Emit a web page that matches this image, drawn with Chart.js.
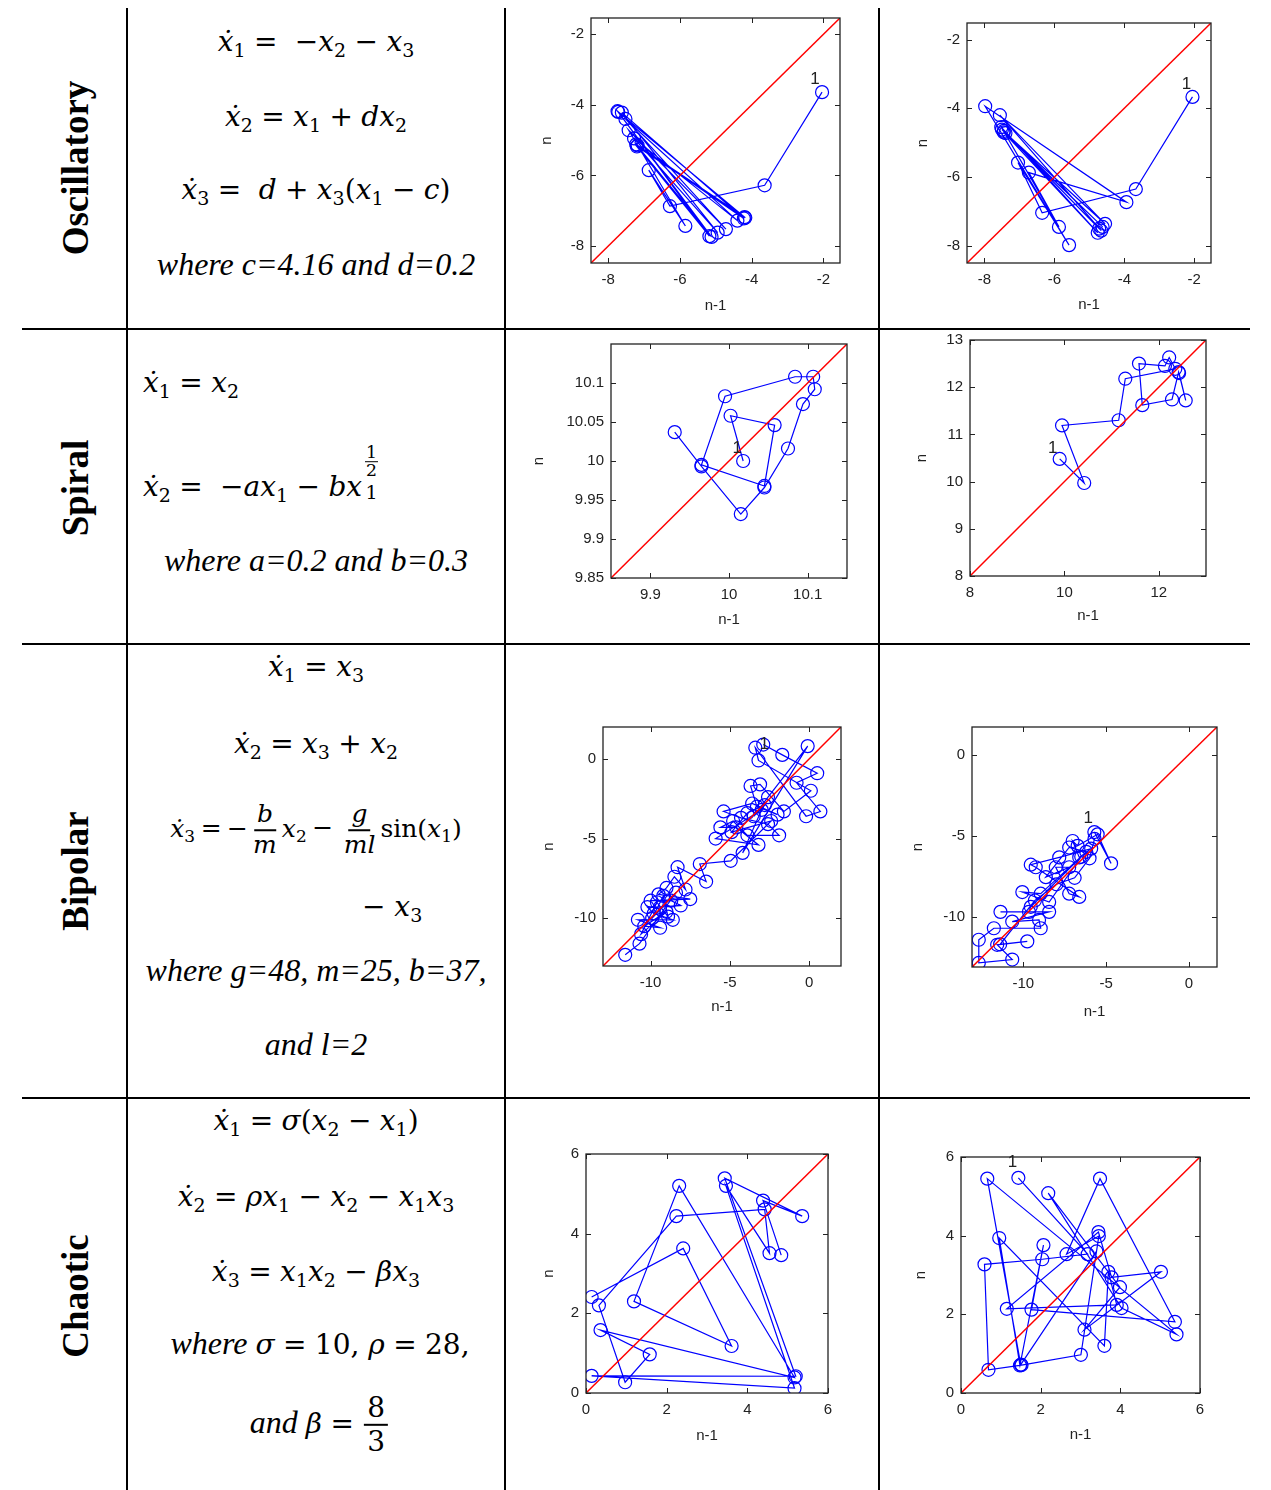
<!DOCTYPE html>
<html>
<head>
<meta charset="utf-8">
<script src="https://cdn.jsdelivr.net/npm/chart.js@4.4.1/dist/chart.umd.min.js"></script>
<style>
body { margin: 0; background: #fff; width: 1271px; height: 1490px; position: relative; overflow: hidden; }
.hl { position: absolute; left: 22px; width: 1228px; height: 2px; background: #000; }
.vl { position: absolute; top: 8px; width: 2px; height: 1482px; background: #000; }
.rowlab { position: absolute; left: 75px; font: bold 37px 'Liberation Serif', serif; transform: translate(-50%, -50%) rotate(-90deg); white-space: nowrap; }
.eq { position: absolute; white-space: nowrap; font-family: 'DejaVu Serif', serif; font-size: 28px; font-style: italic; line-height: 1.2; }
.c { left: 316px; transform: translate(-50%, -50%); }
.l { transform: translate(0, -50%); }
.eq sub { font-size: 0.68em; font-style: normal; vertical-align: -0.3em; line-height: 0; }
.up { font-style: normal; }
.op { font-style: normal; margin: 0 0.3em; }
.tight .op { margin: 0 0.22em; }
.tn { font-family: 'Liberation Serif', serif; font-size: 32px; font-style: italic; }
.fr { display: inline-flex; flex-direction: column; align-items: center; vertical-align: middle; line-height: 1.15; margin: 0 2px; }
.fr > span { padding: 0 3px; }
.fr > span:first-child { border-bottom: 2px solid #000; }
.ex { display: inline-flex; flex-direction: column; align-items: center; vertical-align: 38px; font-style: normal; line-height: 1; margin-left: 3px; }
.ex .fr { font-size: 0.62em; margin: 0; line-height: 1; vertical-align: baseline; }
.ex .fr > span { padding: 0 1px; }
.ex .fr > span:first-child { border-bottom-width: 1px; }
.ex .sb { font-size: 0.68em; margin-top: 3px; }
canvas { position: absolute; }
</style>
</head>
<body>
<div class="vl" style="left:126px"></div>
<div class="vl" style="left:504px"></div>
<div class="vl" style="left:878px"></div>
<div class="hl" style="top:328px"></div>
<div class="hl" style="top:643px"></div>
<div class="hl" style="top:1097px"></div>

<div class="rowlab" style="top:168px">Oscillatory</div>
<div class="rowlab" style="top:488px">Spiral</div>
<div class="rowlab" style="top:871px">Bipolar</div>
<div class="rowlab" style="top:1296px">Chaotic</div>

<!-- oscillatory -->
<div class="eq c" style="top:42px">&#x1E8B;<sub>1</sub><span class="op">=</span> <span class="up">&minus;</span>x<sub>2</sub><span class="op">&minus;</span>x<sub>3</sub></div>
<div class="eq c" style="top:117px">&#x1E8B;<sub>2</sub><span class="op">=</span>x<sub>1</sub><span class="op">+</span>dx<sub>2</sub></div>
<div class="eq c" style="top:190px">&#x1E8B;<sub>3</sub><span class="op">=</span>&nbsp;d<span class="op">+</span>x<sub>3</sub><span class="up">(</span>x<sub>1</sub><span class="op">&minus;</span>c<span class="up">)</span></div>
<div class="eq c tn" style="top:264px">where c=4.16 and d=0.2</div>

<!-- spiral -->
<div class="eq l" style="left:143px;top:383px">&#x1E8B;<sub>1</sub><span class="op">=</span>x<sub>2</sub></div>
<div class="eq l" style="left:143px;top:474px">&#x1E8B;<sub>2</sub><span class="op">=</span>&nbsp;<span class="up">&minus;</span>ax<sub>1</sub><span class="op">&minus;</span>bx<span class="ex"><span class="fr"><span>1</span><span>2</span></span><span class="sb">1</span></span></div>
<div class="eq c tn" style="top:560px">where a=0.2 and b=0.3</div>

<!-- bipolar -->
<div class="eq c" style="top:667px">&#x1E8B;<sub>1</sub><span class="op">=</span>x<sub>3</sub></div>
<div class="eq c" style="top:744px">&#x1E8B;<sub>2</sub><span class="op">=</span>x<sub>3</sub><span class="op">+</span>x<sub>2</sub></div>
<div class="eq c tight" style="top:830px;font-size:25px">&#x1E8B;<sub>3</sub><span class="op">=</span><span class="up">&minus;</span><span class="fr"><span>b</span><span>m</span></span>x<sub>2</sub><span class="op">&minus;</span><span class="fr"><span>g</span><span>ml</span></span><span class="up">sin(</span>x<sub>1</sub><span class="up">)</span></div>
<div class="eq l" style="left:362px;top:907px"><span class="up">&minus;</span> x<sub>3</sub></div>
<div class="eq c tn" style="top:970px">where g=48, m=25, b=37,</div>
<div class="eq c tn" style="top:1044px">and l=2</div>

<!-- chaotic -->
<div class="eq c" style="top:1121px">&#x1E8B;<sub>1</sub><span class="op">=</span>&sigma;<span class="up">(</span>x<sub>2</sub><span class="op">&minus;</span>x<sub>1</sub><span class="up">)</span></div>
<div class="eq c" style="top:1197px">&#x1E8B;<sub>2</sub><span class="op">=</span>&rho;x<sub>1</sub><span class="op">&minus;</span>x<sub>2</sub><span class="op">&minus;</span>x<sub>1</sub>x<sub>3</sub></div>
<div class="eq c" style="top:1272px">&#x1E8B;<sub>3</sub><span class="op">=</span>x<sub>1</sub>x<sub>2</sub><span class="op">&minus;</span>&beta;x<sub>3</sub></div>
<div class="eq c" style="top:1343px;left:320px"><span class="tn">where </span>&sigma;<span class="op">=</span><span class="up">10,</span> &rho;<span class="op">=</span><span class="up">28,</span></div>
<div class="eq c" style="top:1425px;left:320px"><span class="tn">and </span>&beta;<span class="op">=</span><span class="fr up"><span>8</span><span>3</span></span></div>

<script>
// return maps: x = value at n-1, y = value at n
const oscAx = [-2.04, -3.64, -6.28, -6.87, -5.85, -7.43, -4.72, -7.52, -4.40, -7.28, -4.95, -7.62, -4.22, -7.22, -5.12, -7.74, -4.18, -7.20, -5.18, -7.72, -4.20, -7.18];
const oscAy = [-3.64, -6.28, -6.87, -5.85, -7.43, -4.72, -7.52, -4.40, -7.28, -4.95, -7.62, -4.22, -7.22, -5.12, -7.74, -4.18, -7.20, -5.18, -7.72, -4.20, -7.18, -5.15];
const oscBx = [-2.05, -3.67, -6.35, -7.04, -5.58, -7.98, -3.94, -6.73, -5.87, -7.45, -4.66, -7.56, -4.55, -7.40, -4.72, -7.50, -4.62, -7.45, -4.76, -7.52];
const oscBy = [-3.67, -6.35, -7.04, -5.58, -7.98, -3.94, -6.73, -5.87, -7.45, -4.66, -7.56, -4.20, -7.36, -4.72, -7.50, -4.62, -7.45, -4.70, -7.62, -4.55];

const spiAx = [10.018, 10.002, 10.058, 10.045, 9.965, 9.995, 10.084, 10.107, 10.109, 10.094, 10.075, 10.045, 10.015, 9.965, 9.931];
const spiAy = [10.000, 10.058, 10.046, 9.968, 9.995, 10.083, 10.108, 10.108, 10.092, 10.073, 10.016, 9.966, 9.932, 9.993, 10.037];
const spiBx = [9.90, 10.42, 9.95, 11.15, 11.29, 12.35, 12.22, 12.13, 11.58, 11.65, 12.28, 12.42, 12.57, 12.43];
const spiBy = [10.48, 9.97, 11.19, 11.30, 12.18, 12.39, 12.63, 12.45, 12.50, 11.62, 11.74, 12.32, 11.72, 12.30];

const bipAx = [-2.9, -1.7, 0.5, -0.8, 0.7, -0.2, -3.4, -3.2, 0.1, -1.6, -3.1, -3.7, -3.3, -2.0, -3.6, -5.4, -4.3, -2.6, -1.9, -3.9,
  -4.8, -5.6, -4.6, -3.2, -5.9, -3.0, -4.2, -0.1, -2.6, -3.5, -2.8, -3.9, -4.9, -2.4, -4.95, -6.9, -6.5, -8.3, -7.8, -8.5,
  -9.0, -9.5, -7.5, -10.0, -8.7, -8.1, -9.4, -10.2, -9.8, -8.6, -10.8, -9.4, -10.4, -9.0, -10.6, -9.6, -8.9, -9.2, -9.9, -8.4,
  -10.7, -11.6];
const bipAy = [0.9, 0.25, -0.9, -1.5, -3.3, -3.6, 0.7, -0.1, -2.0, -3.3, -1.6, -1.7, -3.0, -3.5, -2.8, -3.3, -3.7, -4.1, -4.8, -4.8,
  -3.9, -4.3, -4.3, -5.4, -5.0, -3.2, -5.9, 0.8, -2.4, -3.6, -2.9, -3.4, -4.6, -3.9, -6.4, -6.6, -7.7, -6.8, -8.2, -7.4,
  -8.1, -8.5, -8.8, -8.9, -8.9, -9.2, -9.3, -9.3, -9.7, -10.1, -10.1, -10.6, -10.5, -9.6, -11.0, -9.0, -9.9, -8.6, -10.0, -8.4,
  -11.6, -12.3];
const bipBx = [-5.71, -4.70, -5.51, -6.72, -7.02, -6.62, -5.9, -7.83, -9.55, -9.25, -6.62, -7.23, -8.04, -7.23, -8.64, -7.23, -6.2, -8.95, -10.06, -8.44,
  -6.5, -9.55, -9.66, -11.38, -8.44, -10.67, -9.05, -8.95, -11.78, -12.69, -12.69, -10.67, -11.58, -9.76, -11.4, -9.3, -8.0, -6.9, -6.0, -5.7];
const bipBy = [-4.78, -6.71, -4.92, -5.63, -5.33, -6.34, -5.8, -6.34, -6.79, -6.95, -8.78, -8.58, -6.95, -6.95, -7.56, -5.73, -6.0, -8.58, -8.48, -9.09,
  -6.3, -9.39, -9.70, -9.70, -9.70, -10.30, -10.20, -10.71, -10.71, -11.42, -12.85, -12.64, -11.73, -11.52, -11.7, -9.0, -8.0, -7.6, -6.4, -5.2];

const chaAx = [0.14, 2.41, 3.61, 1.19, 2.31, 5.17, 0.36, 1.58, 0.97, 0.32, 2.24, 4.43, 4.55, 3.47, 5.17, 0.14, 5.20, 3.44, 5.36, 4.39, 4.84];
const chaAy = [2.41, 3.63, 1.18, 2.30, 5.20, 0.39, 1.58, 0.97, 0.27, 2.20, 4.44, 4.61, 3.51, 5.20, 0.12, 0.43, 0.42, 5.39, 4.44, 4.83, 3.46];
const chaBx = [1.44, 3.18, 2.04, 0.59, 0.69, 1.52, 3.01, 3.46, 2.65, 3.49, 5.37, 1.77, 2.07, 1.48, 0.96, 3.60, 3.70, 3.91, 1.15, 3.45,
  3.78, 5.02, 3.10, 3.99, 2.19, 4.03, 5.41, 0.66, 1.50, 3.40];
const chaBy = [5.47, 3.53, 3.40, 3.27, 0.59, 0.71, 0.97, 3.99, 3.53, 5.45, 1.81, 2.12, 3.76, 0.70, 3.94, 1.20, 3.08, 2.24, 2.14, 4.09,
  2.94, 3.08, 1.61, 2.69, 5.08, 2.16, 1.49, 5.45, 0.72, 3.60];

// axis limits and ticks
const oscARange = [-8.48, -1.54];
const oscBRange = [-8.5, -1.52];
const spiARange = [9.85, 10.15];
const spiBRange = [8, 13];
const bipARange = [-13, 2];
const bipBRange = [-13.1, 1.7];
const chaRange = [0, 6];
const oscTicks = [-8, -6, -4, -2];
const spiATicksX = [9.9, 10, 10.1];
const spiATicksY = [9.85, 9.9, 9.95, 10, 10.05, 10.1];
const spiBTicksX = [8, 10, 12];
const spiBTicksY = [8, 9, 10, 11, 12, 13];
const bipTicks = [-10, -5, 0];
const chaTicks = [0, 2, 4, 6];

const tickFont = { family: 'Liberation Sans', size: 15 };
const inkColor = '#222';

// box + inward ticks + the "1" start label
const framePlugin = {
  id: 'frame',
  afterDraw(chart) {
    const { ctx, chartArea: a, scales: { x, y } } = chart;
    ctx.save();
    ctx.strokeStyle = '#222';
    ctx.lineWidth = 1.3;
    ctx.strokeRect(a.left, a.top, a.right - a.left, a.bottom - a.top);
    ctx.lineWidth = 1;
    ctx.beginPath();
    x.ticks.forEach(function (t) {
      const px = Math.round(x.getPixelForValue(t.value)) + 0.5;
      ctx.moveTo(px, a.bottom); ctx.lineTo(px, a.bottom - 5);
      ctx.moveTo(px, a.top); ctx.lineTo(px, a.top + 5);
    });
    y.ticks.forEach(function (t) {
      const py = Math.round(y.getPixelForValue(t.value)) + 0.5;
      ctx.moveTo(a.left, py); ctx.lineTo(a.left + 5, py);
      ctx.moveTo(a.right, py); ctx.lineTo(a.right - 5, py);
    });
    ctx.stroke();
    const lab = chart.options.plugins.frame.lab;
    if (lab) {
      const d = chart.data.datasets[1].data[0];
      ctx.fillStyle = '#222';
      ctx.font = '17px "Liberation Sans"';
      ctx.textAlign = 'center';
      ctx.textBaseline = 'middle';
      ctx.fillText('1', x.getPixelForValue(d.x) + lab[0], y.getPixelForValue(d.y) + lab[1]);
    }
    ctx.restore();
  }
};

function returnMap(p) {
  const yW = Math.round(p.yGap + 12.4);
  const xH = Math.round(p.xGap + 12.4);
  const cv = document.createElement('canvas');
  const w = yW + p.box[2] + 20, h = 14 + p.box[3] + xH;
  cv.width = w; cv.height = h;
  cv.style.left = (p.box[0] - yW) + 'px';
  cv.style.top = (p.box[1] - 14) + 'px';
  cv.style.width = w + 'px'; cv.style.height = h + 'px';
  document.body.appendChild(cv);

  const pts = p.xs.map(function (v, i) { return { x: v, y: p.ys[i] }; });
  const diag = [{ x: p.range[0], y: p.range[0] }, { x: p.range[1], y: p.range[1] }];

  function axis(ticks, title, isX) {
    return {
      type: 'linear', min: p.range[0], max: p.range[1],
      grid: { display: false, drawTicks: false },
      border: { display: false },
      ticks: { font: tickFont, color: inkColor, padding: isX ? 8 : 7, callback: function (v) { return String(v); } },
      title: { display: true, text: title, font: tickFont, color: inkColor, padding: { top: 4, bottom: 4 } },
      afterBuildTicks: function (s) { s.ticks = ticks.map(function (v) { return { value: v }; }); },
      afterFit: function (s) { if (isX) s.height = xH; else s.width = yW; }
    };
  }

  new Chart(cv, {
    type: 'scatter',
    data: {
      datasets: [
        { data: diag, showLine: true, borderColor: '#ff0000', borderWidth: 1.5, pointRadius: 0, order: 0 },
        { data: pts, showLine: true, borderColor: '#0000ff', borderWidth: 1.2, pointRadius: 6.5,
          pointBorderColor: '#0000ff', pointBackgroundColor: 'rgba(0,0,0,0)', pointBorderWidth: 1.2, order: 1 }
      ]
    },
    options: {
      responsive: false, animation: false, events: [],
      layout: { padding: { top: 14, right: 20, left: 0, bottom: 0 } },
      plugins: { legend: { display: false }, tooltip: { enabled: false }, frame: { lab: p.lab } },
      scales: { x: axis(p.xt, 'n-1', true), y: axis(p.yt, 'n', false) }
    },
    plugins: [framePlugin]
  });
}

returnMap({ box: [591, 16, 249, 247], range: oscARange, xt: oscTicks, yt: oscTicks, xs: oscAx, ys: oscAy, yGap: 45, xGap: 44, lab: [-7, -13] });
returnMap({ box: [967, 21, 244, 242], range: oscBRange, xt: oscTicks, yt: oscTicks, xs: oscBx, ys: oscBy, yGap: 45, xGap: 43, lab: [-6, -13] });
returnMap({ box: [611, 342, 236, 236], range: spiARange, xt: spiATicksX, yt: spiATicksY, xs: spiAx, ys: spiAy, yGap: 73, xGap: 43, lab: [-6, -13] });
returnMap({ box: [970, 338, 236, 238], range: spiBRange, xt: spiBTicksX, yt: spiBTicksY, xs: spiBx, ys: spiBy, yGap: 49, xGap: 41, lab: [-7, -11] });
returnMap({ box: [603, 725, 238, 241], range: bipARange, xt: bipTicks, yt: bipTicks, xs: bipAx, ys: bipAy, yGap: 55, xGap: 42, lab: [1, 0] });
returnMap({ box: [972, 725, 245, 242], range: bipBRange, xt: bipTicks, yt: bipTicks, xs: bipBx, ys: bipBy, yGap: 55, xGap: 46, lab: [-6, -14] });
returnMap({ box: [586, 1152, 242, 241], range: chaRange, xt: chaTicks, yt: chaTicks, xs: chaAx, ys: chaAy, yGap: 38, xGap: 44, lab: null });
returnMap({ box: [961, 1155, 239, 238], range: chaRange, xt: chaTicks, yt: chaTicks, xs: chaBx, ys: chaBy, yGap: 41, xGap: 43, lab: [-6, -16] });
</script>
</body>
</html>
